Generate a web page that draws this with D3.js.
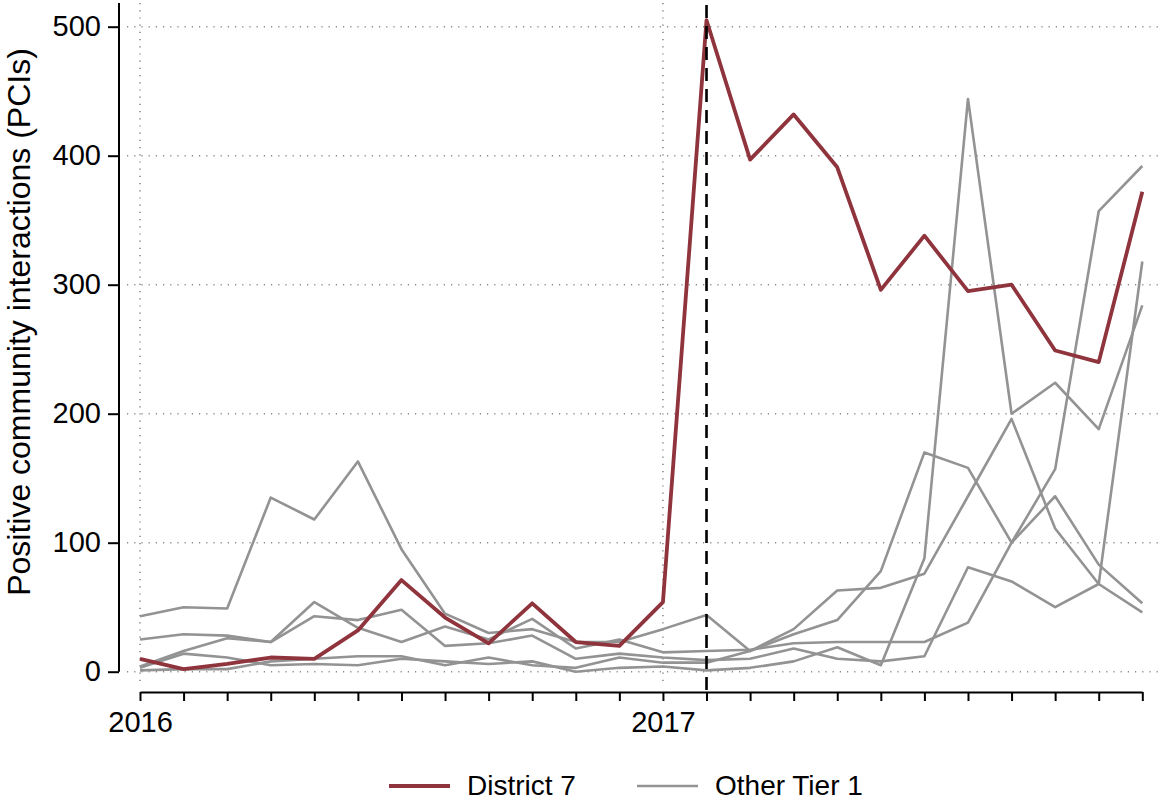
<!DOCTYPE html>
<html>
<head>
<meta charset="utf-8">
<script src="https://cdn.jsdelivr.net/npm/d3@7"></script>
<style>
  body { margin: 0; background: #fff; }
  text { font-family: "Liberation Sans", Arial, Helvetica, sans-serif; fill: #000; }
</style>
</head>
<body>
<div id="my_dataviz"></div>
<script>

// months, Jan 2016 .. Dec 2017
var months = ["2016m1", "2016m2", "2016m3", "2016m4", "2016m5", "2016m6", "2016m7", "2016m8", "2016m9", "2016m10", "2016m11", "2016m12",
    "2017m1", "2017m2", "2017m3", "2017m4", "2017m5", "2017m6", "2017m7", "2017m8", "2017m9", "2017m10", "2017m11", "2017m12"];

var yearTicks = ["2016m1", "2017m1"];
var yearLabels = ["2016", "2017"];
var yTicks = [0, 100, 200, 300, 400, 500];
var eventMonth = "2017m2";

var district7 = [10, 2, 6, 11, 10, 32, 71, 42, 22, 53, 23, 20, 54, 505, 397, 432, 391, 296, 338, 295, 300, 249, 240, 372];

var otherA = [43, 50, 49, 135, 118, 163, 95, 45, 30, 33, 23, 23, 33, 44, 16, 33, 63, 65, 76, 136, 196, 111, 68, 46];
var otherB = [25, 29, 28, 23, 43, 40, 48, 20, 22, 28, 10, 14, 11, 9, 10, 18, 10, 8, 12, 81, 70, 50, 68, 318];
var otherC = [4, 16, 26, 23, 54, 34, 23, 35, 25, 41, 18, 25, 15, 16, 17, 22, 23, 23, 23, 38, 100, 157, 357, 392];
var otherD = [3, 14, 11, 5, 6, 5, 10, 8, 6, 8, 0, 3, 4, 1, 3, 8, 19, 5, 88, 444, 200, 224, 188, 284];
var otherE = [1, 2, 2, 8, 10, 12, 12, 5, 11, 5, 3, 11, 7, 7, 16, 29, 40, 78, 170, 158, 100, 136, 83, 53];

var others = [otherA, otherB, otherC, otherD, otherE];

var red = "#8f343c";
var grey = "#939393";

var width = 1159, height = 803;

var svg = d3.select("#my_dataviz")
    .append("svg")
    .attr("width", width)
    .attr("height", height);

var x = d3.scalePoint()
    .domain(months)
    .range([140, 1142.3]);

var y = d3.scaleLinear()
    .domain([0, 500])
    .range([671.7, 26.7]);

// plot region edges
var plotLeft = 127, plotRight = 1159, plotTop = 3, plotBottom = 687;

// dotted grid lines
svg.append("g")
    .selectAll("line")
    .data(yTicks)
    .enter()
    .append("line")
    .attr("x1", plotLeft)
    .attr("x2", plotRight)
    .attr("y1", function (d) { return y(d) })
    .attr("y2", function (d) { return y(d) })
    .attr("stroke", "#8a8a8a")
    .attr("stroke-width", 1.6)
    .attr("stroke-dasharray", "1.2,6");

svg.append("g")
    .selectAll("line")
    .data(yearTicks)
    .enter()
    .append("line")
    .attr("x1", function (d) { return x(d) })
    .attr("x2", function (d) { return x(d) })
    .attr("y1", plotTop)
    .attr("y2", plotBottom)
    .attr("stroke", "#8a8a8a")
    .attr("stroke-width", 1.6)
    .attr("stroke-dasharray", "1.2,6");

// Y axis
var yAxis = svg.append("g")
    .attr("transform", "translate(119,0)")
    .call(d3.axisLeft(y).tickValues(yTicks).tickSize(11).tickPadding(7).tickSizeOuter(0));
yAxis.select(".domain").attr("stroke-width", 2).attr("d", "M0," + plotTop + "V" + y(0));
yAxis.selectAll(".tick line").attr("stroke-width", 2);
yAxis.selectAll(".tick text")
    .style("font-size", "29px")
    .style("font-family", "'Liberation Sans', Arial, sans-serif")
    .attr("fill", "#000");

// X axis
var xAxis = svg.append("g")
    .attr("transform", "translate(0,692)")
    .call(d3.axisBottom(x).tickSize(9).tickPadding(10).tickSizeOuter(0)
        .tickFormat(function (d) { var i = yearTicks.indexOf(d); return i >= 0 ? yearLabels[i] : ""; }));
xAxis.select(".domain").attr("stroke-width", 2);
xAxis.selectAll(".tick line").attr("stroke-width", 2);
xAxis.selectAll(".tick text")
    .style("font-size", "29px")
    .style("font-family", "'Liberation Sans', Arial, sans-serif")
    .attr("fill", "#000");

// Y title
svg.append("text")
    .attr("transform", "translate(30,322) rotate(-90)")
    .attr("text-anchor", "middle")
    .style("font-size", "32px")
    .text("Positive community interactions (PCIs)");

var line = d3.line()
    .x(function (d, i) { return x(months[i]) })
    .y(function (d) { return y(d) });

// other tier 1 districts
svg.append("g")
    .selectAll("path")
    .data(others)
    .enter()
    .append("path")
    .attr("d", function (d) { return line(d) })
    .attr("fill", "none")
    .attr("stroke", grey)
    .attr("stroke-width", 2.6)
    .attr("stroke-linejoin", "round");

// District 7
svg.append("path")
    .attr("d", line(district7))
    .attr("fill", "none")
    .attr("stroke", red)
    .attr("stroke-width", 3.8)
    .attr("stroke-linejoin", "round");

// event line
svg.append("line")
    .attr("x1", x(eventMonth))
    .attr("x2", x(eventMonth))
    .attr("y1", plotTop + 2)
    .attr("y2", 692)
    .attr("stroke", "#000")
    .attr("stroke-width", 2.6)
    .attr("stroke-dasharray", "13,8");

// legend
var legend = [{ name: "District 7", color: red, w: 3.8, x0: 389 }, { name: "Other Tier 1", color: grey, w: 2.6, x0: 637 }];
var lg = svg.append("g")
    .selectAll("g")
    .data(legend)
    .enter()
    .append("g");
lg.append("line")
    .attr("x1", function (d) { return d.x0 })
    .attr("x2", function (d) { return d.x0 + 61 })
    .attr("y1", 786)
    .attr("y2", 786)
    .attr("stroke", function (d) { return d.color })
    .attr("stroke-width", function (d) { return d.w });
lg.append("text")
    .attr("x", function (d) { return d.x0 + 78 })
    .attr("y", 795)
    .style("font-size", "28px")
    .text(function (d) { return d.name });

</script>
</body>
</html>
